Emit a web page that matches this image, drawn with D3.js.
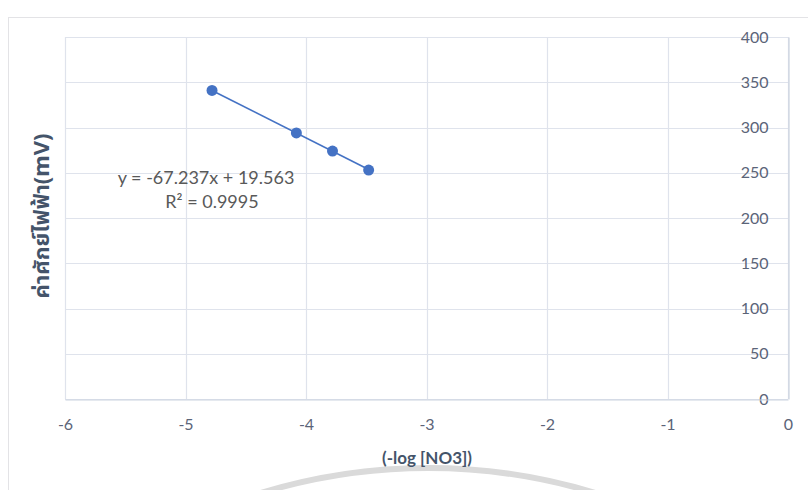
<!DOCTYPE html>
<html>
<head>
<meta charset="utf-8">
<script src="https://cdn.jsdelivr.net/npm/d3@7"></script>
<style>
  html, body { margin: 0; padding: 0; background: #ffffff; }
  svg { display: block; }
</style>
</head>
<body>
<svg id="chart" width="808" height="490"></svg>
<script>
// Electrode potential vs. -log[NO3] calibration data
const logConc = [-4.78, -4.08, -3.78, -3.48];
const potential = [341, 294, 274, 253];

// Linear trendline reported for the series
const slope = -67.237;
const intercept = 19.563;
const rSquared = 0.9995;

const xTicks = [-6, -5, -4, -3, -2, -1, 0];
const yTicks = [0, 50, 100, 150, 200, 250, 300, 350, 400];

const xTitle = "(-log [NO3])";
const yTitle = "ค่าศักย์ไฟฟ้า(mV)";

const W = 808, H = 490;
const plot = { left: 65, right: 788, top: 37, bottom: 399 };

const svg = d3.select("#chart");

// chart frame
svg.append("rect")
  .attr("x", 8.5).attr("y", 17.5)
  .attr("width", W + 10).attr("height", H + 10)
  .attr("fill", "#ffffff")
  .attr("stroke", "#e3e3e6").attr("stroke-width", 1);

// grey arc ornament at the bottom edge (behind everything else)
const arc = d3.path();
arc.arc(428, 1040, 572, Math.PI * 1.5 - 0.31, Math.PI * 1.5 + 0.31);
svg.append("path")
  .attr("d", arc.toString())
  .attr("fill", "none")
  .attr("stroke", "#dadada")
  .attr("stroke-width", 6);

const x = d3.scaleLinear().domain([-6, 0]).range([plot.left, plot.right]);
const y = d3.scaleLinear().domain([0, 400]).range([plot.bottom, plot.top]);

const gridColor = "#dfe3ec";
const labelColor = "#5b6478";
const labelFont = "Lato, 'Open Sans', sans-serif";

// horizontal gridlines
svg.append("g")
  .selectAll("line")
  .data(yTicks)
  .join("line")
  .attr("x1", plot.left).attr("x2", plot.right)
  .attr("y1", d => Math.round(y(d)) + 0.5).attr("y2", d => Math.round(y(d)) + 0.5)
  .attr("stroke", gridColor).attr("stroke-width", 1.2);

// vertical gridlines
svg.append("g")
  .selectAll("line")
  .data(xTicks)
  .join("line")
  .attr("x1", d => Math.round(x(d)) + 0.5).attr("x2", d => Math.round(x(d)) + 0.5)
  .attr("y1", plot.top).attr("y2", plot.bottom)
  .attr("stroke", gridColor).attr("stroke-width", 1.2);

// value axis sits at x = 0 (right side), labels drawn inside the plot
const yAxis = d3.axisLeft(y).tickValues(yTicks).tickSize(0).tickPadding(6);
const gy = svg.append("g")
  .attr("transform", `translate(${Math.round(x(0)) + 0.5},0)`)
  .call(yAxis);
gy.select(".domain").attr("stroke", "#ccd3df").attr("stroke-width", 1.2);
gy.selectAll("text")
  .attr("x", -20)
  .attr("fill", labelColor)
  .style("font-family", labelFont)
  .style("font-size", "16px");

// category axis at y = 0
const xAxis = d3.axisBottom(x).tickValues(xTicks).tickSize(0).tickPadding(19).tickFormat(d => String(d));
const gx = svg.append("g")
  .attr("transform", `translate(0,${Math.round(y(0)) + 0.5})`)
  .call(xAxis);
gx.select(".domain").attr("stroke", "#ccd3df").attr("stroke-width", 1.2);
gx.selectAll("text")
  .attr("fill", labelColor)
  .style("font-family", labelFont)
  .style("font-size", "16px");

// linear trendline across the measured range
const xr = d3.extent(logConc);
const seriesColor = "#4472c4";
svg.append("line")
  .attr("x1", x(xr[0])).attr("y1", y(slope * xr[0] + intercept))
  .attr("x2", x(xr[1])).attr("y2", y(slope * xr[1] + intercept))
  .attr("stroke", seriesColor).attr("stroke-width", 1.6);

// measured points
svg.append("g")
  .selectAll("circle")
  .data(logConc.map((v, i) => [v, potential[i]]))
  .join("circle")
  .attr("cx", d => x(d[0])).attr("cy", d => y(d[1]))
  .attr("r", 5.5)
  .attr("fill", seriesColor);

// trendline equation label
const eq = svg.append("text")
  .attr("fill", "#595959")
  .style("font-family", labelFont)
  .style("font-size", "18px")
  .attr("text-anchor", "middle");
eq.append("tspan").attr("x", 206).attr("y", 184)
  .text(`y = ${slope}x + ${intercept}`);
eq.append("tspan").attr("x", 212).attr("y", 208)
  .text(`R² = ${rSquared}`);

// axis titles
svg.append("text")
  .attr("x", 427).attr("y", 464)
  .attr("text-anchor", "middle")
  .attr("fill", "#44546a")
  .style("font-family", labelFont)
  .style("font-size", "17px")
  .style("font-weight", "bold")
  .text(xTitle);

svg.append("text")
  .attr("transform", "translate(49,216) rotate(-90)")
  .attr("text-anchor", "middle")
  .attr("fill", "#44546a")
  .style("font-family", "'Noto Sans', 'Noto Sans Thai', sans-serif")
  .style("font-size", "22px")
  .style("font-weight", "bold")
  .text(yTitle);
</script>
</body>
</html>
